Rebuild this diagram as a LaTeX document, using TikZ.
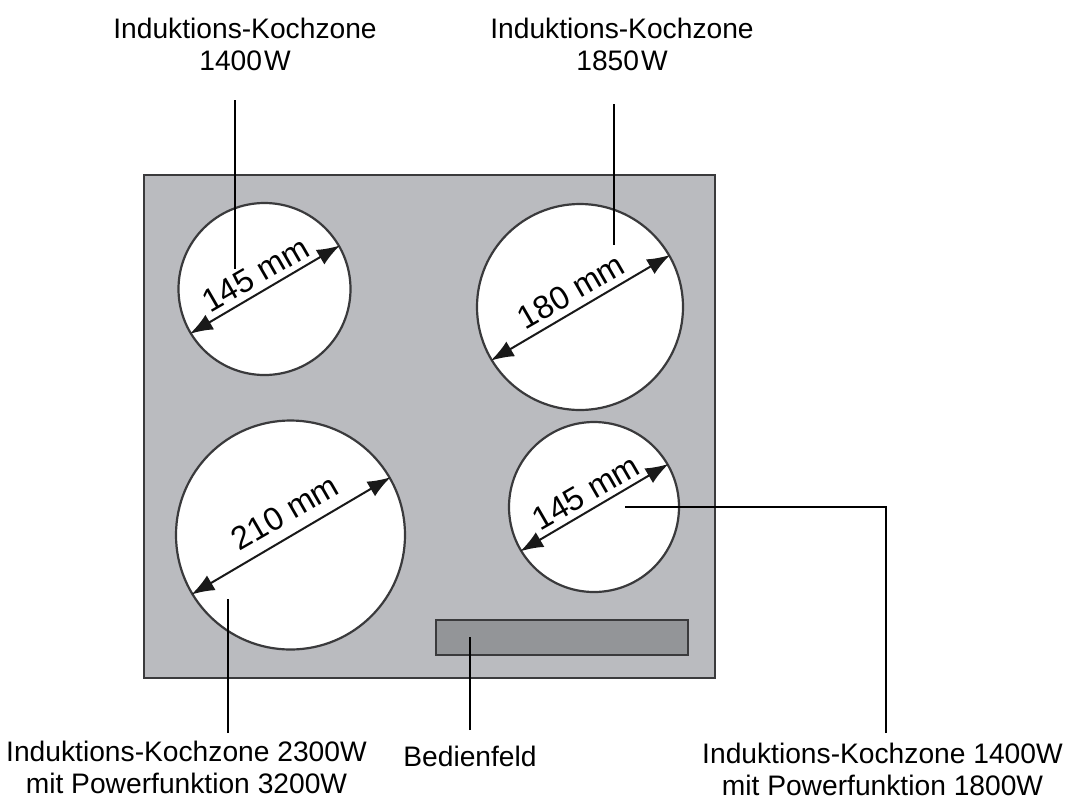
\documentclass[tikz,border=0pt]{standalone}
\usepackage{fontspec}
\setmainfont{Liberation Sans}
\usetikzlibrary{arrows.meta}
\definecolor{panelgray}{HTML}{BABBBF}
\definecolor{fieldgray}{HTML}{939598}
\definecolor{linegray}{HTML}{3A3A3C}
\tikzset{
  zone/.style={circle,draw=linegray,line width=2.2pt,fill=white,inner sep=0pt,minimum size=#1},
  caption/.style={align=center,font=\fontsize{28.2}{32}\selectfont,inner sep=0pt},
  size/.style={font=\fontsize{32.5}{33}\selectfont,inner sep=0pt,rotate=30},
  span/.style={{Latex[length=23pt,width=17pt]}-{Latex[length=23pt,width=17pt]},line width=2pt,draw=black!90},
  leader/.style={line width=2pt}
}
\begin{document}
\begin{tikzpicture}[x=1pt,y=-1pt]
\useasboundingbox (0,0) rectangle (1065,804);
\draw[draw=linegray,line width=2pt,fill=panelgray] (144,175) rectangle (715,677.5);
\node[draw=linegray,line width=2pt,fill=fieldgray,minimum width=252pt,minimum height=34.5pt,inner sep=0pt] (Field) at (562,637.5) {};
\node[zone=172pt] (Zone0) at (264.5,289) {};
\node[zone=206pt] (Zone1) at (580,307) {};
\node[zone=229pt] (Zone2) at (290.5,535) {};
\node[zone=170pt] (Zone3) at (594,507) {};
\draw[span] (Zone0.211) -- (Zone0.30);
\draw[span] (Zone1.211) -- (Zone1.30);
\draw[span] (Zone2.211) -- (Zone2.30);
\draw[span] (Zone3.211) -- (Zone3.30);
\node[size] (Size0) at (255.5,274.5) {145 mm};
\node[size] (Size1) at (571,291.5) {180 mm};
\node[size] (Size2) at (285,512.5) {210 mm};
\node[size] (Size3) at (586,492.5) {145 mm};
\node[caption] (Label0) at (245,44) {Induktions-Kochzone\\1400\kern2pt W};
\node[caption] (Label1) at (622,44) {Induktions-Kochzone\\1850\kern2pt W};
\node[caption] (Label2) at (186.5,767) {Induktions-Kochzone 2300W\\mit Powerfunktion 3200W};
\node[caption] (Label3) at (470,756) {Bedienfeld};
\node[caption] (Label4) at (882.5,769) {Induktions-Kochzone 1400W\\mit Powerfunktion 1800W};
\coordinate (Lead0) at (235,100);
\coordinate (Tip0) at (235,269);
\coordinate (Lead1) at (614,104);
\coordinate (Tip1) at (614,245);
\coordinate (Lead2) at (228,733);
\coordinate (Tip2) at (228,599);
\coordinate (Lead3) at (470,730);
\coordinate (Tip3) at (470,637);
\coordinate (Lead4) at (886,733);
\coordinate (Bend4) at (886,507);
\coordinate (Tip4) at (625,507);
\draw[leader] (Lead0) -- (Tip0);
\draw[leader] (Lead1) -- (Tip1);
\draw[leader] (Lead2) -- (Tip2);
\draw[leader] (Lead3) -- (Tip3);
\draw[leader] (Lead4) -- (Bend4) -- (Tip4);
\end{tikzpicture}
\end{document}
